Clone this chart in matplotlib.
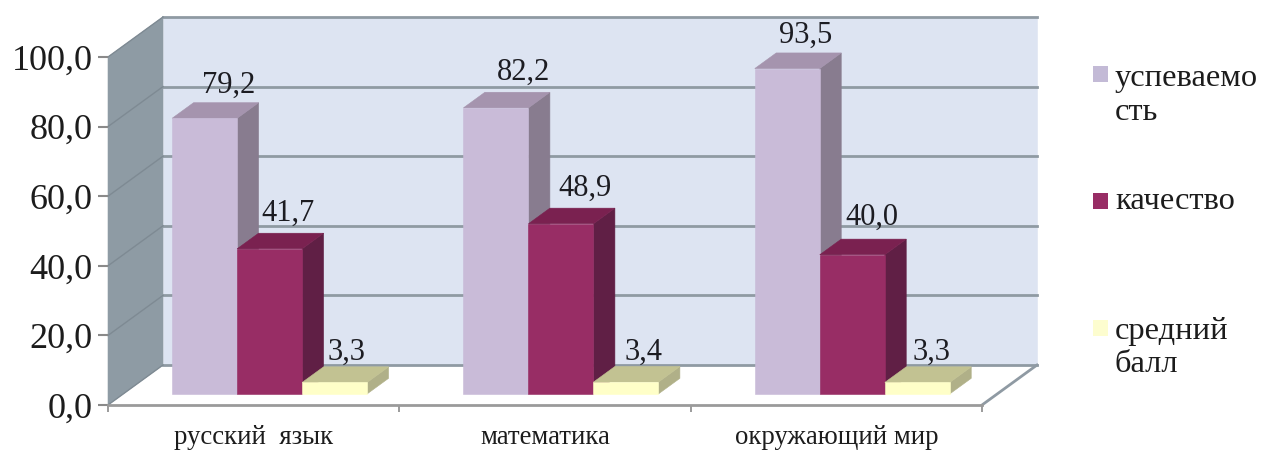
import matplotlib
matplotlib.use("Agg")
import matplotlib.pyplot as plt
from matplotlib.patches import Polygon, Rectangle

plt.rcParams['font.family'] = ['Liberation Serif', 'DejaVu Serif']

categories = ["русский  язык", "математика", "окружающий мир"]
series_names = ["успеваемо\nсть", "качество", "средний\nбалл"]
uspevaemost = [79.2, 82.2, 93.5]
kachestvo = [41.7, 48.9, 40.0]
sredniy_ball = [3.3, 3.4, 3.3]
y_ticks = [0, 20, 40, 60, 80, 100]

series = [uspevaemost, kachestvo, sredniy_ball]
front_cols = ["#C9BBD8", "#982D65", "#FFFFC8"]
top_cols = ["#A594AE", "#7A2150", "#C2C292"]
side_cols = ["#887C8F", "#601F45", "#B0B088"]
legend_cols = ["#C3BAD6", "#982D65", "#FDFDCF"]
# label shifts from each bar's centre, in pixels (x right, y up from front top)
label_dx = [[24.5, 27.5, 18], [18.5, 24, 20], [11.5, 17.5, 14.5]]
label_dy = [[33, 36, 33], [35, 35, 37], [30, 30, 30]]

W, H = 1261, 450
fig = plt.figure(figsize=(W / 100, H / 100), dpi=100, facecolor="white")
L, R, T, B = 108, 982, 57, 405
ax = fig.add_axes([L / W, 1 - B / H, (R - L) / W, (B - T) / H])
ax.set_xlim(0, 3)
ax.set_ylim(0, 100)
ax.patch.set_visible(False)

px_x = 3 / (R - L)
px_y = 100 / (B - T)
DX, DY = 55 * px_x, 40 * px_y      # full depth of the floor
BW = 65 * px_x                     # bar width
D0, DB = 0.29, 0.39                # bar front position and bar depth, as fractions


def poly(pts, col, z, **kw):
    ax.add_patch(Polygon(pts, closed=True, facecolor=col, edgecolor=col, lw=0.4,
                         zorder=z, clip_on=False, **kw))


GRID = "#8F9AA3"
# walls and floor
poly([(0, 0), (DX, DY), (3 + DX, DY), (3, 0)], "#FFFFFF", 1)
poly([(DX, DY), (3 + DX, DY), (3 + DX, 100 + DY), (DX, 100 + DY)], "#DDE4F2", 1)
poly([(0, 0), (DX, DY), (DX, 100 + DY), (0, 100)], "#8E9BA4", 1)
for v in y_ticks:
    ax.plot([DX, 3 + DX], [v + DY, v + DY], color=GRID, lw=2.0, zorder=1.5, clip_on=False)
    ax.plot([0, DX], [v, v + DY], color="#7E8A93", lw=1.0, zorder=1.5, clip_on=False)
ax.plot([3, 3 + DX], [0, DY], color=GRID, lw=2.0, zorder=1.5, clip_on=False)

# bars
z = 3
for c in range(len(categories)):
    for s, vals in enumerate(series):
        v = vals[c]
        x0 = c + 0.5 + (s - 1.5) * BW + D0 * DX
        y0 = D0 * DY - 0.15
        dx, dy = DB * DX, DB * DY
        poly([(x0 + BW, y0), (x0 + BW + dx, y0 + dy), (x0 + BW + dx, y0 + dy + v), (x0 + BW, y0 + v)],
             side_cols[s], z)
        poly([(x0, y0 + v), (x0 + dx, y0 + v + dy), (x0 + BW + dx, y0 + v + dy), (x0 + BW, y0 + v)],
             top_cols[s], z)
        poly([(x0, y0), (x0 + BW, y0), (x0 + BW, y0 + v), (x0, y0 + v)], front_cols[s], z)
        z += 0.01
        ax.text(x0 + BW / 2 + label_dx[s][c] * px_x, y0 + v + label_dy[s][c] * px_y,
                f"{v:.1f}".replace(".", ","), ha="center", va="center",
                fontsize=22, color="#1c1c22", zorder=10, clip_on=False)

# real axes
for name in ("top", "right"):
    ax.spines[name].set_visible(False)
for name in ("left", "bottom"):
    ax.spines[name].set_color("#9A9A9A")
    ax.spines[name].set_linewidth(2.0)
ax.spines["left"].set_visible(False)
ax.set_yticks(y_ticks)
ax.set_yticklabels([f"{v:.1f}".replace(".", ",") for v in y_ticks], fontsize=26, color="#1c1c1c")
ax.tick_params(axis="y", length=7, width=1.5, color="#8a8a8a", pad=4)
ax.set_xticks(range(4))
ax.set_xticklabels([])
ax.tick_params(axis="x", length=5, width=1.2, color="#8a8a8a")
ax.set_xticks([i + 0.5 for i in range(3)], minor=True)
ax.set_xticklabels(categories, minor=True, fontsize=19.3, color="#1c1c1c")
ax.tick_params(axis="x", which="minor", length=0, pad=14.5)

# legend
rows = [(74, 95.5), (200.5, 201.5), (327.5, 348)]
for s, name in enumerate(series_names):
    sw_y, tx_y = rows[s]
    fig.add_artist(Rectangle((1093 / W, 1 - (sw_y + 8) / H), 15 / W, 16 / H,
                             transform=fig.transFigure, facecolor=legend_cols[s], edgecolor="none"))
    fig.text(1115 / W, 1 - tx_y / H, name, ha="left", va="center", fontsize=23.4,
             color="#1c1c1c", linespacing=1.22)

fig.savefig("out.png", dpi=100)
